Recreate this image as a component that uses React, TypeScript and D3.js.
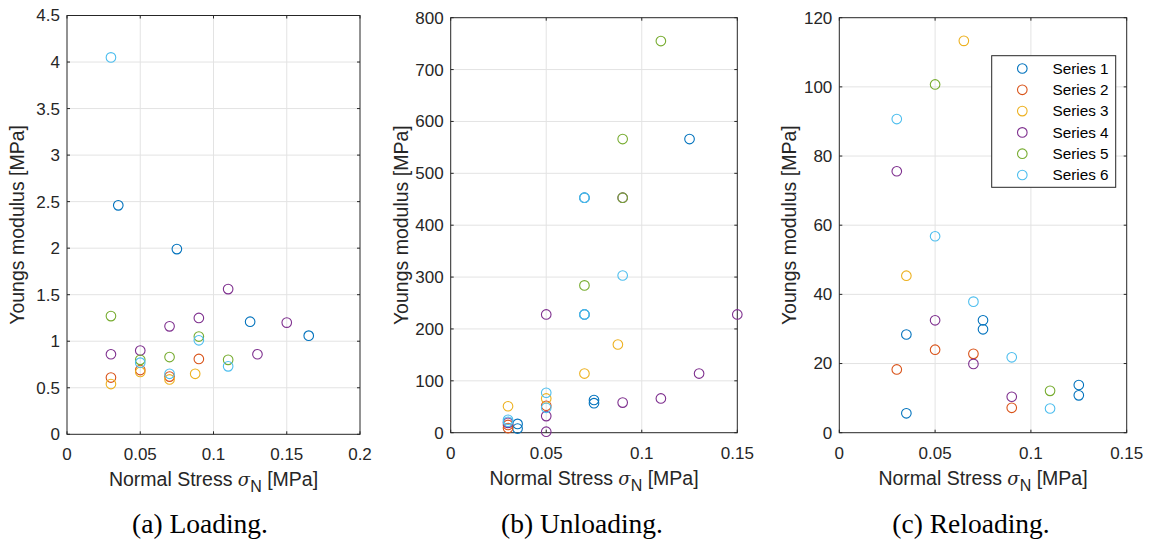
import * as d3 from "d3";

// MATLAB default colour order
const seriesColors = ["#0072BD", "#D95319", "#EDB120", "#7E2F8E", "#77AC30", "#4DBEEE"];
const seriesNames = ["Series 1", "Series 2", "Series 3", "Series 4", "Series 5", "Series 6"];

type Pt = [number, number];

// (a) Loading: [normal stress, youngs modulus] per series
const loading: Pt[][] = [
    [[0.035, 2.46], [0.075, 1.99], [0.125, 1.21], [0.165, 1.06]],
    [[0.03, 0.61], [0.05, 0.69], [0.07, 0.62], [0.09, 0.81]],
    [[0.03, 0.54], [0.05, 0.67], [0.07, 0.59], [0.0875, 0.65]],
    [[0.03, 0.86], [0.05, 0.9], [0.07, 1.16], [0.09, 1.25], [0.11, 1.56], [0.13, 0.86], [0.15, 1.2]],
    [[0.03, 1.27], [0.05, 0.8], [0.07, 0.83], [0.09, 1.05], [0.11, 0.8]],
    [[0.03, 4.05], [0.05, 0.77], [0.07, 0.65], [0.09, 1.01], [0.11, 0.73]],
];

// (b) Unloading
const unloading: Pt[][] = [
    [[0.035, 17], [0.035, 8], [0.07, 453], [0.07, 228], [0.075, 63], [0.075, 57], [0.125, 566]],
    [[0.03, 15], [0.03, 9], [0.05, 52]],
    [[0.03, 51], [0.05, 66], [0.07, 114], [0.0875, 170]],
    [[0.03, 19], [0.05, 228], [0.05, 32], [0.05, 2], [0.09, 453], [0.09, 58], [0.11, 66], [0.13, 114], [0.15, 228]],
    [[0.07, 284], [0.09, 566], [0.09, 453], [0.11, 755]],
    [[0.03, 25], [0.03, 21], [0.05, 77], [0.05, 48], [0.07, 453], [0.07, 228], [0.09, 303]],
];

// (c) Reloading
const reloading: Pt[][] = [
    [[0.035, 28.4], [0.035, 5.6], [0.075, 32.5], [0.075, 29.9], [0.125, 13.8], [0.125, 10.8]],
    [[0.03, 18.3], [0.05, 24.0], [0.07, 22.8], [0.09, 7.2]],
    [[0.035, 45.4], [0.065, 113.3]],
    [[0.03, 75.6], [0.05, 32.5], [0.07, 19.9], [0.09, 10.4]],
    [[0.05, 100.7], [0.11, 12.1]],
    [[0.03, 90.7], [0.05, 56.8], [0.07, 37.9], [0.09, 21.8], [0.11, 7.0]],
];

const xTicksA = [0, 0.05, 0.1, 0.15, 0.2];
const xTicksBC = [0, 0.05, 0.1, 0.15];
const yTicksA = [0, 0.5, 1, 1.5, 2, 2.5, 3, 3.5, 4, 4.5];
const yTicksB = [0, 100, 200, 300, 400, 500, 600, 700, 800];
const yTicksC = [0, 20, 40, 60, 80, 100, 120];

const captions = ["(a) Loading.", "(b) Unloading.", "(c) Reloading."];

const FONT = "Liberation Sans, Arial, Helvetica, sans-serif";
const INK = "#262626";
const GRID = "#e3e3e3";

interface PanelProps {
    box: { left: number; top: number; right: number; bottom: number };
    data: Pt[][];
    xTicks: number[];
    yTicks: number[];
    caption: string;
    captionX: number;
    legend?: boolean;
}

const fmt = (v: number) => String(+v.toFixed(3));

function Panel({ box, data, xTicks, yTicks, caption, captionX, legend }: PanelProps) {
    const x = d3.scaleLinear().domain([xTicks[0], xTicks[xTicks.length - 1]]).range([box.left, box.right]);
    const y = d3.scaleLinear().domain([yTicks[0], yTicks[yTicks.length - 1]]).range([box.bottom, box.top]);
    const tl = 3;
    const midX = (box.left + box.right) / 2;
    const midY = (box.top + box.bottom) / 2;

    return (
        <g>
            {/* grid */}
            {xTicks.slice(1, -1).map(t => (
                <line key={"gx" + t} x1={x(t)} x2={x(t)} y1={box.top} y2={box.bottom} stroke={GRID} />
            ))}
            {yTicks.slice(1, -1).map(t => (
                <line key={"gy" + t} x1={box.left} x2={box.right} y1={y(t)} y2={y(t)} stroke={GRID} />
            ))}

            {/* ticks, inward on all four sides */}
            {xTicks.map(t => (
                <g key={"tx" + t}>
                    <line x1={x(t)} x2={x(t)} y1={box.bottom} y2={box.bottom - tl} stroke={INK} />
                    <line x1={x(t)} x2={x(t)} y1={box.top} y2={box.top + tl} stroke={INK} />
                    <text x={x(t)} y={box.bottom + 26} textAnchor="middle" fontSize={17} fill={INK}>{fmt(t)}</text>
                </g>
            ))}
            {yTicks.map(t => (
                <g key={"ty" + t}>
                    <line x1={box.left} x2={box.left + tl} y1={y(t)} y2={y(t)} stroke={INK} />
                    <line x1={box.right} x2={box.right - tl} y1={y(t)} y2={y(t)} stroke={INK} />
                    <text x={box.left - 7} y={y(t)} dy="0.35em" textAnchor="end" fontSize={17} fill={INK}>{fmt(t)}</text>
                </g>
            ))}

            <rect x={box.left} y={box.top} width={box.right - box.left} height={box.bottom - box.top}
                fill="none" stroke={INK} strokeWidth={1} />

            {/* markers */}
            {data.map((s, i) => s.map((p, j) => (
                <circle key={i + "-" + j} cx={x(p[0])} cy={y(p[1])} r={4.8}
                    fill="none" stroke={seriesColors[i]} strokeWidth={1.1} />
            )))}

            {/* axis labels */}
            <text x={midX} y={box.bottom + 52} textAnchor="middle" fontSize={19.5} fill={INK}>
                Normal Stress{"  "}
                <tspan fontFamily="DejaVu Serif, serif" fontStyle="italic" fontSize={18}>σ</tspan>
                <tspan dy={6} fontSize={16}>N</tspan>
                <tspan dy={-6}> [MPa]</tspan>
            </text>
            <text transform={`translate(${box.left - 43},${midY}) rotate(-90)`} textAnchor="middle"
                fontSize={19.5} fill={INK}>Youngs modulus [MPa]</text>

            {/* legend */}
            {legend && (
                <g>
                    <rect x={991.7} y={55.7} width={124} height={131.6} fill="white" stroke={INK} />
                    {seriesNames.map((n, i) => (
                        <g key={n}>
                            <circle cx={1022.3} cy={68.5 + i * 21.3} r={4.8} fill="none"
                                stroke={seriesColors[i]} strokeWidth={1.1} />
                            <text x={1052.5} y={68.5 + i * 21.3} dy="0.35em" fontSize={15.3} fill="#000">{n}</text>
                        </g>
                    ))}
                </g>
            )}

            <text x={captionX} y={533} textAnchor="middle" fontSize={27.5}
                fontFamily="Liberation Serif, Times New Roman, serif" fill="#000">{caption}</text>
        </g>
    );
}

export default function App() {
    return (
        <svg width={1151} height={548} style={{ position: "absolute", left: 0, top: 0, background: "white" }}
            fontFamily={FONT}>
            <rect width={1151} height={548} fill="white" />
            <Panel box={{ left: 67, top: 15.5, right: 360, bottom: 434.3 }} data={loading}
                xTicks={xTicksA} yTicks={yTicksA} caption={captions[0]} captionX={200} />
            <Panel box={{ left: 450.7, top: 17.7, right: 737.3, bottom: 432.7 }} data={unloading}
                xTicks={xTicksBC} yTicks={yTicksB} caption={captions[1]} captionX={582} />
            <Panel box={{ left: 839.3, top: 17.7, right: 1126.7, bottom: 432.7 }} data={reloading}
                xTicks={xTicksBC} yTicks={yTicksC} caption={captions[2]} captionX={971} legend />
        </svg>
    );
}
